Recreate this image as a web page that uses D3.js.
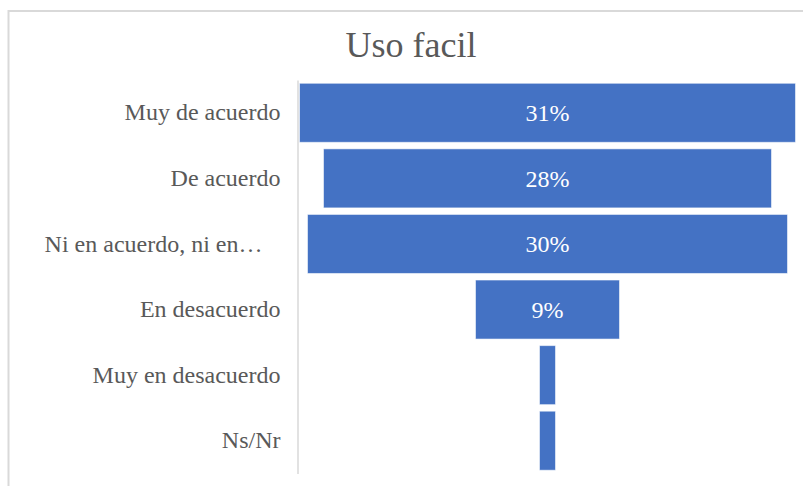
<!DOCTYPE html>
<html>
<head>
<meta charset="utf-8">
<script src="https://cdn.jsdelivr.net/npm/d3@7/dist/d3.min.js"></script>
<style>
  html, body { margin: 0; padding: 0; background: #fff; }
  svg { display: block; }
</style>
</head>
<body>
<svg id="chart" width="803" height="486"></svg>
<script>
// Survey answers for "Uso facil", shown as a centred funnel
const categories = ["Muy de acuerdo", "De acuerdo", "Ni en acuerdo, ni en…", "En desacuerdo", "Muy en desacuerdo", "Ns/Nr"];
const values = [31, 28, 30, 9, 1, 1];
const valueLabels = ["31%", "28%", "30%", "9%", "", ""];
const title = "Uso facil";

const svg = d3.select("#chart");
const serif = "'Liberation Serif', 'Times New Roman', serif";

// chart frame (runs off the right and bottom edges)
svg.append("rect")
  .attr("x", 8.5).attr("y", 11)
  .attr("width", 840).attr("height", 520)
  .attr("fill", "#fff")
  .attr("stroke", "#d9d9d9")
  .attr("stroke-width", 2);

// title
svg.append("text")
  .attr("x", 411).attr("y", 57)
  .attr("text-anchor", "middle")
  .attr("font-family", serif)
  .attr("font-size", 36)
  .attr("fill", "#595959")
  .text(title);

const axisX = 297.5;
const centerX = 547.5;

const y = d3.scaleBand()
  .domain(categories)
  .range([80, 473.5])
  .paddingInner(0.1)
  .paddingOuter(0.05);

const w = d3.scaleLinear()
  .domain([0, 31])
  .range([0, 496]);

// bars centred on a common axis
const bars = svg.append("g");
bars.selectAll("rect")
  .data(values)
  .join("rect")
  .attr("x", d => centerX - w(d) / 2)
  .attr("y", (d, i) => y(categories[i]))
  .attr("width", d => w(d))
  .attr("height", y.bandwidth())
  .attr("fill", "#4472c4")
  .attr("stroke", "rgba(255,255,255,0.55)")
  .attr("stroke-width", 1);

// value labels inside the bars
bars.selectAll("text")
  .data(values)
  .join("text")
  .attr("x", centerX)
  .attr("y", (d, i) => y(categories[i]) + y.bandwidth() / 2)
  .attr("dy", "0.35em")
  .attr("text-anchor", "middle")
  .attr("font-family", serif)
  .attr("font-size", 24)
  .attr("fill", "#fff")
  .text((d, i) => valueLabels[i]);

// category axis
const axis = svg.append("g")
  .attr("transform", `translate(${axisX},0)`)
  .call(d3.axisLeft(y).tickSize(0).tickPadding(17));
axis.select(".domain")
  .attr("stroke", "#d9d9d9")
  .attr("stroke-width", 1.5);
axis.selectAll(".tick text")
  .attr("font-family", serif)
  .attr("font-size", 24)
  .attr("fill", "#595959")
  // truncated labels keep the room of the hidden tail
  .attr("dx", d => d.endsWith("…") ? -18 : 0);
</script>
</body>
</html>
